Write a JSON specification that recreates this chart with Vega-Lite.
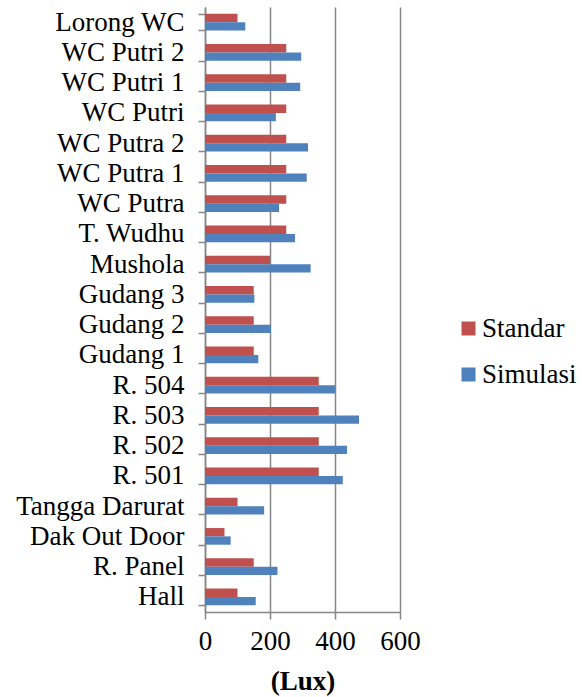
{
  "$schema": "https://vega.github.io/schema/vega-lite/v6.json",
  "autosize": {"type": "none"},
  "padding": {"left": 205, "top": 7, "right": 182, "bottom": 85},
  "width": 195,
  "height": 605,
  "background": "white",
  "config": {
    "view": {"stroke": null},
    "font": "Liberation Serif"
  },
  "data": {
    "values": [
      {"ruang": "Lorong WC", "seri": "Standar", "lux": 100},
      {"ruang": "Lorong WC", "seri": "Simulasi", "lux": 124},
      {"ruang": "WC Putri 2", "seri": "Standar", "lux": 250},
      {"ruang": "WC Putri 2", "seri": "Simulasi", "lux": 296},
      {"ruang": "WC Putri 1", "seri": "Standar", "lux": 250},
      {"ruang": "WC Putri 1", "seri": "Simulasi", "lux": 293},
      {"ruang": "WC Putri", "seri": "Standar", "lux": 250},
      {"ruang": "WC Putri", "seri": "Simulasi", "lux": 218},
      {"ruang": "WC Putra 2", "seri": "Standar", "lux": 250},
      {"ruang": "WC Putra 2", "seri": "Simulasi", "lux": 317},
      {"ruang": "WC Putra 1", "seri": "Standar", "lux": 250},
      {"ruang": "WC Putra 1", "seri": "Simulasi", "lux": 313},
      {"ruang": "WC Putra", "seri": "Standar", "lux": 250},
      {"ruang": "WC Putra", "seri": "Simulasi", "lux": 228},
      {"ruang": "T. Wudhu", "seri": "Standar", "lux": 250},
      {"ruang": "T. Wudhu", "seri": "Simulasi", "lux": 277},
      {"ruang": "Mushola", "seri": "Standar", "lux": 200},
      {"ruang": "Mushola", "seri": "Simulasi", "lux": 325},
      {"ruang": "Gudang 3", "seri": "Standar", "lux": 150},
      {"ruang": "Gudang 3", "seri": "Simulasi", "lux": 152},
      {"ruang": "Gudang 2", "seri": "Standar", "lux": 150},
      {"ruang": "Gudang 2", "seri": "Simulasi", "lux": 203},
      {"ruang": "Gudang 1", "seri": "Standar", "lux": 150},
      {"ruang": "Gudang 1", "seri": "Simulasi", "lux": 164},
      {"ruang": "R. 504", "seri": "Standar", "lux": 350},
      {"ruang": "R. 504", "seri": "Simulasi", "lux": 400},
      {"ruang": "R. 503", "seri": "Standar", "lux": 350},
      {"ruang": "R. 503", "seri": "Simulasi", "lux": 474},
      {"ruang": "R. 502", "seri": "Standar", "lux": 350},
      {"ruang": "R. 502", "seri": "Simulasi", "lux": 437},
      {"ruang": "R. 501", "seri": "Standar", "lux": 350},
      {"ruang": "R. 501", "seri": "Simulasi", "lux": 424},
      {"ruang": "Tangga Darurat", "seri": "Standar", "lux": 100},
      {"ruang": "Tangga Darurat", "seri": "Simulasi", "lux": 182},
      {"ruang": "Dak Out Door", "seri": "Standar", "lux": 60},
      {"ruang": "Dak Out Door", "seri": "Simulasi", "lux": 79},
      {"ruang": "R. Panel", "seri": "Standar", "lux": 150},
      {"ruang": "R. Panel", "seri": "Simulasi", "lux": 223},
      {"ruang": "Hall", "seri": "Standar", "lux": 100},
      {"ruang": "Hall", "seri": "Simulasi", "lux": 156}
    ]
  },
  "mark": {"type": "bar"},
  "encoding": {
    "y": {
      "field": "ruang",
      "type": "nominal",
      "sort": null,
      "scale": {"paddingInner": 0.45, "paddingOuter": 0.225},
      "axis": {
        "title": null,
        "tickBand": "extent",
        "labelFont": "Liberation Serif",
        "labelColor": "black",
        "labelFontSize": 27,
        "labelPadding": 14,
        "tickSize": 7,
        "tickColor": "#868686",
        "tickWidth": 1.5,
        "domainColor": "#868686",
        "domainWidth": 1.5,
        "grid": false,
        "labelLimit": 300
      }
    },
    "yOffset": {"field": "seri", "type": "nominal", "sort": ["Standar", "Simulasi"]},
    "x": {
      "field": "lux",
      "type": "quantitative",
      "scale": {"domain": [0, 600], "nice": false},
      "axis": {
        "title": "(Lux)",
        "titleFont": "Liberation Serif",
        "titleColor": "black",
        "titleFontSize": 27,
        "titleFontWeight": "bold",
        "titlePadding": 14,
        "values": [0, 200, 400, 600],
        "labelFont": "Liberation Serif",
        "labelColor": "black",
        "labelFontSize": 27,
        "labelPadding": 9,
        "labelFlush": false,
        "tickSize": 7,
        "tickColor": "#868686",
        "tickWidth": 1.5,
        "domainColor": "#868686",
        "domainWidth": 1.5,
        "grid": true,
        "gridColor": "#868686",
        "gridWidth": 1.5
      }
    },
    "color": {
      "field": "seri",
      "type": "nominal",
      "scale": {"domain": ["Standar", "Simulasi"], "range": ["#C0504D", "#4F81BD"]},
      "legend": {
        "title": null,
        "orient": "none",
        "legendX": 250,
        "legendY": 308,
        "padding": 0,
        "symbolType": "square",
        "symbolSize": 196,
        "symbolStrokeWidth": 0,
        "labelFont": "Liberation Serif",
        "labelColor": "black",
        "labelFontSize": 27,
        "labelOffset": 0,
        "rowPadding": 18
      }
    }
  }
}
